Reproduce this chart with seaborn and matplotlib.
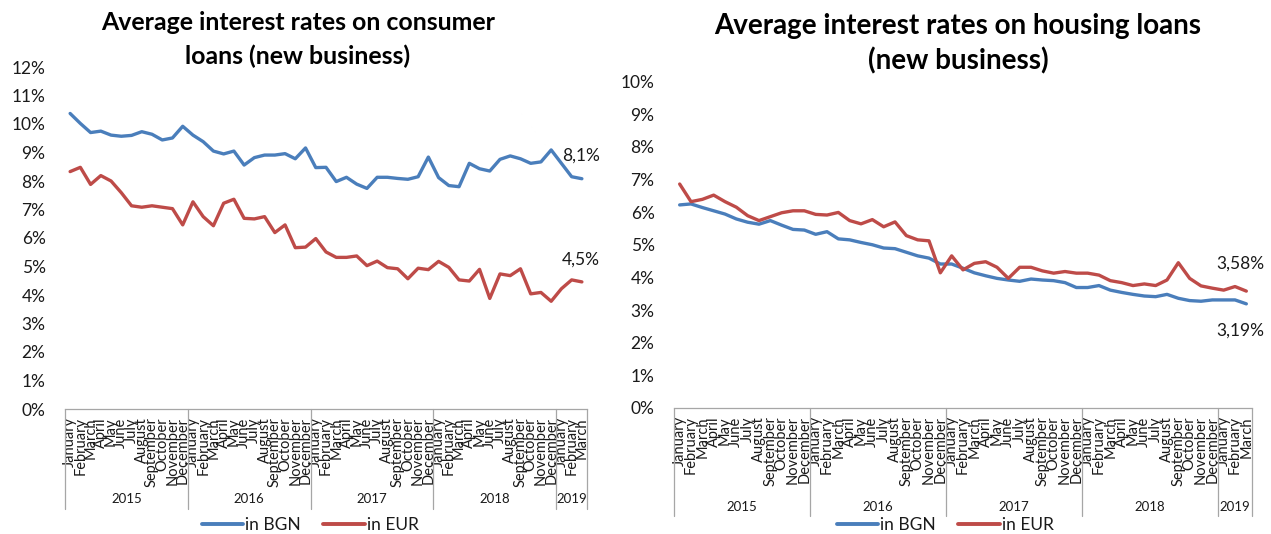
import numpy as np
import pandas as pd
import matplotlib
matplotlib.use("Agg")
import matplotlib.pyplot as plt
from matplotlib.lines import Line2D
import seaborn as sns

# Monthly categories: January 2015 .. March 2019
month_names = ["January", "February", "March", "April", "May", "June", "July",
               "August", "September", "October", "November", "December"]
years = ["2015", "2016", "2017", "2018", "2019"]
months_per_year = [12, 12, 12, 12, 3]
month_labels = [m for n in months_per_year for m in month_names[:n]]

# Average interest rates on consumer loans, new business (%)
consumer_bgn = [10.37, 10.02, 9.70, 9.75, 9.61, 9.57, 9.60, 9.73, 9.64, 9.44, 9.51, 9.92,
                9.61, 9.38, 9.05, 8.95, 9.05, 8.56, 8.82, 8.91, 8.91, 8.96, 8.78, 9.16,
                8.47, 8.48, 7.98, 8.13, 7.89, 7.74, 8.13, 8.13, 8.09, 8.06, 8.15, 8.84,
                8.12, 7.84, 7.80, 8.62, 8.43, 8.35, 8.76, 8.88, 8.78, 8.62, 8.67, 9.09,
                8.62, 8.15, 8.08]
consumer_eur = [8.33, 8.48, 7.88, 8.19, 8.00, 7.59, 7.13, 7.08, 7.13, 7.08, 7.03, 6.46,
                7.27, 6.75, 6.43, 7.22, 7.36, 6.69, 6.67, 6.75, 6.19, 6.46, 5.66, 5.68,
                5.98, 5.51, 5.32, 5.32, 5.37, 5.03, 5.19, 4.96, 4.92, 4.57, 4.94, 4.89,
                5.18, 4.97, 4.53, 4.49, 4.90, 3.88, 4.74, 4.68, 4.92, 4.04, 4.09, 3.78,
                4.22, 4.53, 4.46]

# Average interest rates on housing loans, new business (%)
housing_bgn = [6.22, 6.25, 6.14, 6.04, 5.94, 5.79, 5.69, 5.63, 5.74, 5.60, 5.47, 5.45,
               5.32, 5.40, 5.18, 5.15, 5.07, 5.00, 4.90, 4.88, 4.77, 4.66, 4.59, 4.41,
               4.41, 4.28, 4.14, 4.05, 3.97, 3.92, 3.88, 3.95, 3.92, 3.90, 3.84, 3.69,
               3.69, 3.75, 3.61, 3.54, 3.48, 3.43, 3.41, 3.48, 3.36, 3.29, 3.27, 3.31,
               3.31, 3.31, 3.19]
housing_eur = [6.86, 6.32, 6.39, 6.52, 6.32, 6.15, 5.89, 5.74, 5.86, 5.98, 6.04, 6.04,
               5.93, 5.91, 5.99, 5.74, 5.64, 5.77, 5.55, 5.70, 5.28, 5.15, 5.12, 4.14,
               4.66, 4.23, 4.43, 4.48, 4.31, 3.97, 4.31, 4.31, 4.20, 4.13, 4.18, 4.13,
               4.13, 4.07, 3.90, 3.84, 3.75, 3.80, 3.75, 3.92, 4.45, 3.97, 3.74, 3.67,
               3.61, 3.72, 3.58]

series_names = ["in BGN", "in EUR"]
colors = {"in BGN": "#4A7EBB", "in EUR": "#BE4B48"}

sns.set_theme(style="white")
plt.rcParams["font.family"] = ["Lato", "DejaVu Sans"]
TXT = "#1a1a1a"
GRID = "#A6A6A6"

fig = plt.figure(figsize=(12.71, 5.34), dpi=100)
W, H = 1271, 534


def panel(rect, bgn, eur, ymax, box_depth, year_y, decimals, label_offsets):
    ax = fig.add_axes(rect)
    n = len(bgn)
    df = pd.DataFrame({
        "idx": list(range(n)) * 2,
        "value": list(bgn) + list(eur),
        "series": [series_names[0]] * n + [series_names[1]] * n,
    })
    sns.lineplot(data=df, x="idx", y="value", hue="series", palette=colors,
                 linewidth=2.4, legend=False, ax=ax)
    ax.set_xlim(-0.5, n - 0.5)
    ax.set_ylim(0, ymax)
    ax.set_xlabel("")
    ax.set_ylabel("")
    ax.set_yticks(range(0, ymax + 1))
    ax.set_yticklabels([f"{v}%" for v in range(0, ymax + 1)], fontsize=12.5, color=TXT)
    ax.set_xticks(range(n))
    ax.set_xticklabels(month_labels, rotation=90, fontsize=10.5, color=TXT,
                       linespacing=1.0)
    ax.tick_params(axis="x", length=0, pad=6)
    ax.tick_params(axis="y", length=0, pad=14)
    for s in ("top", "right", "left"):
        ax.spines[s].set_visible(False)
    ax.spines["bottom"].set_color(GRID)
    ax.spines["bottom"].set_linewidth(0.9)

    # year grouping box under the month labels
    tr = ax.get_xaxis_transform()
    edges = np.concatenate([[0], np.cumsum(months_per_year)]) - 0.5
    for b in edges:
        ax.plot([b, b], [0, -box_depth], transform=tr, color=GRID, lw=0.9,
                clip_on=False)
    for yr, a, b in zip(years, edges[:-1], edges[1:]):
        ax.text((a + b) / 2, -year_y, yr, transform=tr, ha="center", va="center",
                fontsize=9.5, color=TXT)

    # value labels for the last month
    for vals, (dx, dy) in zip((bgn, eur), label_offsets):
        txt = f"{vals[-1]:.{decimals}f}".replace(".", ",") + "%"
        ax.annotate(txt, (n - 1, vals[-1]), xytext=(dx, dy),
                    textcoords="offset pixels", ha="center", va="center",
                    fontsize=12.5, color=TXT)
    return ax


axL = panel([65 / W, 1 - 409 / H, 522 / W, 342 / H], consumer_bgn, consumer_eur,
            12, 0.292, 0.263, 1, [(-1, 23), (-1, 22)])
axR = panel([674 / W, 1 - 408 / H, 578 / W, 326.5 / H], housing_bgn, housing_eur,
            10, 0.331, 0.303, 2, [(-6, -27), (-6, 27)])

# titles
title_kw = dict(ha="center", va="center", fontweight="bold", color="black")
fig.text(298 / W, 1 - 23 / H, "Average interest rates on consumer", fontsize=17.9, **title_kw)
fig.text(298 / W, 1 - 56 / H, "loans (new business)", fontsize=17.9, **title_kw)
fig.text(958 / W, 1 - 26 / H, "Average interest rates on housing loans", fontsize=20, **title_kw)
fig.text(958 / W, 1 - 61 / H, "(new business)", fontsize=20, **title_kw)

# legends
handles = [Line2D([], [], color=colors[s], lw=2.8) for s in series_names]
for cx in (310, 945):
    fig.legend(handles, series_names, loc="center", bbox_to_anchor=(cx / W, 1 - 525 / H),
               ncol=2, frameon=False, fontsize=12.5, handlelength=2.4,
               handletextpad=0.1, columnspacing=1.3, labelcolor=TXT,
               borderaxespad=0, borderpad=0)

fig.savefig("out.png", dpi=100, facecolor="white")
